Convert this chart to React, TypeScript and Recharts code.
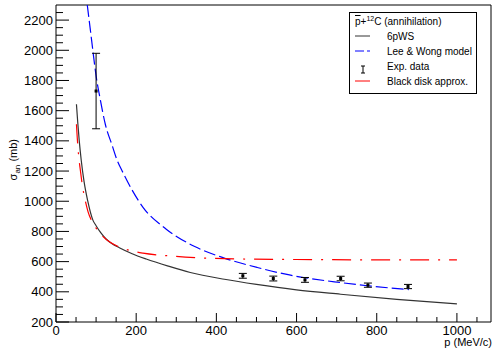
import {
  ComposedChart,
  Line,
  Scatter,
  ErrorBar,
  XAxis,
  YAxis,
  ReferenceArea,
} from "recharts";

// 6pWS (black solid)
const pwsP = [51, 54, 58, 63, 70, 79, 92, 100, 112, 125, 140, 158, 190, 225, 280, 335, 420, 500, 600, 710, 850, 1000];
const pwsSigma = [1642, 1530, 1400, 1270, 1130, 1004, 875, 838, 790, 750, 718, 692, 652, 617, 570, 528, 483, 449, 413, 384, 350, 320];

// Lee & Wong model (blue dashed)
const leeP = [78, 85, 93, 100, 110, 123, 140, 152, 167, 217, 275, 346, 418, 502, 585, 710, 777, 880];
const leeSigma = [2300, 2150, 1975, 1830, 1680, 1510, 1370, 1275, 1190, 960, 815, 700, 625, 561, 510, 461, 440, 415];

// Black disk approx. (red dash-dot)
const diskP = [51, 53, 56, 61, 66, 73, 80, 88, 100, 115, 135, 158, 190, 217, 283, 350, 450, 600, 800, 1000];
const diskSigma = [1510, 1420, 1315, 1200, 1100, 1004, 930, 875, 822, 772, 728, 697, 670, 656, 638, 626, 618, 614, 612, 612];

// experimental points
const expP = [100, 466, 542, 621, 710, 778, 878];
const expSigma = [1730, 506, 488, 479, 488, 444, 435];
const expErr = [250, 16, 16, 16, 15, 14, 14];

const X_TICKS = [0, 50, 100, 150, 200, 250, 300, 350, 400, 450, 500, 550, 600, 650, 700, 750, 800, 850, 900, 950, 1000, 1050];
const Y_TICKS = [200, 250, 300, 350, 400, 450, 500, 550, 600, 650, 700, 750, 800, 850, 900, 950, 1000, 1050, 1100, 1150, 1200, 1250, 1300, 1350, 1400, 1450, 1500, 1550, 1600, 1650, 1700, 1750, 1800, 1850, 1900, 1950, 2000, 2050, 2100, 2150, 2200, 2250];

const pws = pwsP.map((p, i) => ({ p, s: pwsSigma[i] }));
const lee = leeP.map((p, i) => ({ p, s: leeSigma[i] }));
const disk = diskP.map((p, i) => ({ p, s: diskSigma[i] }));
const exp = expP.map((p, i) => ({ p, s: expSigma[i], err: expErr[i] }));

const FONT = "'Liberation Sans', Arial, Helvetica, sans-serif";

const XTick = ({ x, y, payload }: any) => {
  const v = payload.value;
  const major = v % 200 === 0;
  return (
    <g>
      <line x1={x} x2={x} y1={y} y2={y - (major ? 9 : 5)} stroke="#000" />
      {major && (
        <text x={x} y={y + 13} textAnchor="middle" fontSize={13} fontFamily={FONT} fill="#000">
          {v}
        </text>
      )}
    </g>
  );
};

const YTick = ({ x, y, payload }: any) => {
  const v = payload.value;
  const major = v % 200 === 0;
  return (
    <g>
      <line x1={x} x2={x + (major ? 13 : 7)} y1={y} y2={y} stroke="#000" />
      {major && (
        <text x={x - 3} y={y + 4.5} textAnchor="end" fontSize={13} fontFamily={FONT} fill="#000">
          {v}
        </text>
      )}
    </g>
  );
};

const Dot = ({ cx, cy }: any) => <rect x={cx - 1.5} y={cy - 1.5} width={3} height={3} fill="#000" />;

const App = () => {
  return (
    <div style={{ position: "absolute", left: 0, top: 0, width: 494, height: 354, background: "#fff" }}>
      <ComposedChart width={494} height={354} margin={{ top: 5, right: 3, left: 0, bottom: 0 }}>
        <XAxis
          type="number"
          dataKey="p"
          domain={[0, 1085]}
          allowDataOverflow
          ticks={X_TICKS}
          interval={0}
          tick={<XTick />}
          tickLine={false}
          tickSize={0}
          tickMargin={0}
          axisLine={false}
          height={32}
        />
        <YAxis
          type="number"
          dataKey="s"
          domain={[200, 2300]}
          allowDataOverflow
          ticks={Y_TICKS}
          interval={0}
          tick={<YTick />}
          tickLine={false}
          tickSize={0}
          tickMargin={0}
          axisLine={false}
          width={56}
        />
        <ReferenceArea x1={0} x2={1085} y1={200} y2={2300} fill="none" stroke="#000" strokeWidth={1} />
        <Line data={pws} dataKey="s" type="monotone" stroke="#333" strokeWidth={1.2} dot={false} isAnimationActive={false} />
        <Line data={lee} dataKey="s" type="monotone" stroke="#0000ff" strokeWidth={1.2} strokeDasharray="12 4" dot={false} isAnimationActive={false} />
        <Line data={disk} dataKey="s" type="monotone" stroke="#ff0000" strokeWidth={1.2} strokeDasharray="19 9 2 9" dot={false} isAnimationActive={false} />
        <Scatter data={exp} dataKey="s" shape={<Dot />} isAnimationActive={false}>
          <ErrorBar dataKey="err" direction="y" width={4} stroke="#000" strokeWidth={1} />
        </Scatter>
      </ComposedChart>
      <svg width={494} height={354} style={{ position: "absolute", left: 0, top: 0, pointerEvents: "none" }}>
        <text transform="translate(17,139) rotate(-90)" textAnchor="end" fontSize={11} fontFamily={FONT} fill="#000">
          σ<tspan fontSize={8} dy={3}>an</tspan>
          <tspan dy={-3}> (mb)</tspan>
        </text>
        <text x={492} y={346} textAnchor="end" fontSize={11} fontFamily={FONT} fill="#000">
          p (MeV/c)
        </text>
        <rect x={349.5} y={12.5} width={127} height={81} fill="#fff" stroke="#000" />
        <text x={355} y={25} fontSize={10} fontFamily={FONT} fill="#000">
          <tspan style={{ textDecoration: "overline" }}>p</tspan>+<tspan fontSize={7} dy={-4}>12</tspan>
          <tspan dy={4}>C (annihilation)</tspan>
        </text>
        <line x1={355} x2={370} y1={36} y2={36} stroke="#333" />
        <text x={387} y={39.5} fontSize={10} fontFamily={FONT} fill="#000">6pWS</text>
        <line x1={355} x2={370} y1={51} y2={51} stroke="#0000ff" strokeDasharray="9 3 3 3" />
        <text x={387} y={54.5} fontSize={10} fontFamily={FONT} fill="#000">Lee &amp; Wong model</text>
        <line x1={363} x2={363} y1={66} y2={73} stroke="#000" />
        <line x1={361} x2={365} y1={66} y2={66} stroke="#000" />
        <line x1={361} x2={365} y1={73} y2={73} stroke="#000" />
        <text x={387} y={70} fontSize={10} fontFamily={FONT} fill="#000">Exp. data</text>
        <line x1={355} x2={370} y1={81} y2={81} stroke="#ff0000" />
        <text x={387} y={84.5} fontSize={10} fontFamily={FONT} fill="#000">Black disk approx.</text>
      </svg>
    </div>
  );
};

export default App;
